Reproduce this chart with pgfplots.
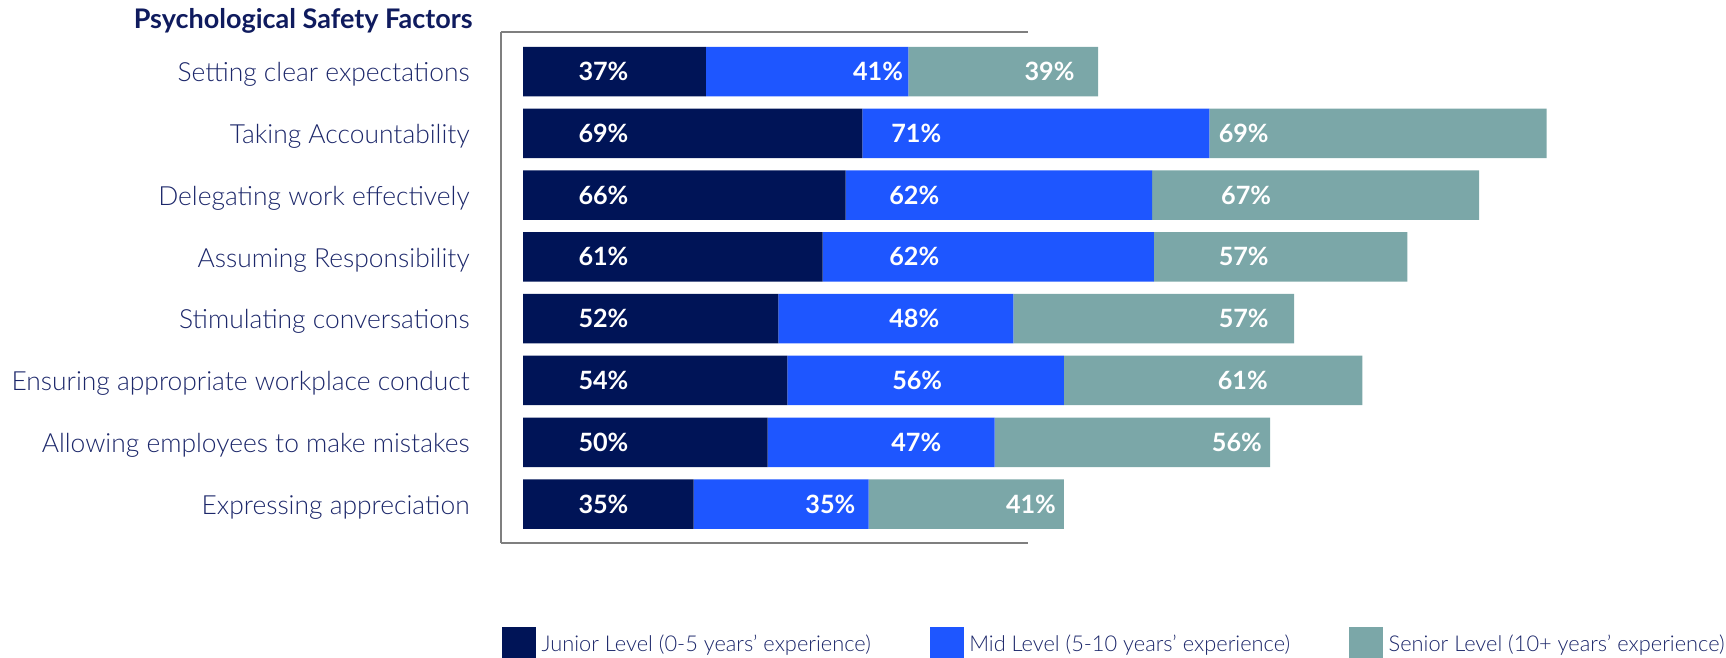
\documentclass[border=0pt]{standalone}
\usepackage{pgfplots}
\usepackage{pgfplotstable}
\pgfplotsset{compat=1.18}
\usepackage{fontspec}
\setmainfont{Lato}
\IfFontExistsTF{Lato Light}{\newfontfamily\lightfont{Lato Light}}{\newfontfamily\lightfont{Lato}}
\definecolor{junior}{HTML}{001457}
\definecolor{mid}{HTML}{1E56FF}
\definecolor{senior}{HTML}{7BA7A8}
\definecolor{labtext}{HTML}{1C276A}
\definecolor{titlec}{HTML}{0F1B5E}
\definecolor{framec}{HTML}{7F7F7F}

\pgfplotstableread{
y junior mid senior
0 37.3 41.3 38.7
1 69.2 70.8 68.8
2 65.8 62.5 66.7
3 61.1 67.6 51.7
4 52.1 47.9 57.3
5 53.9 56.4 60.9
6 49.9 46.3 56.2
7 34.8 35.7 39.8
}\bars

\pgfplotstableread{
x y lab
16.4 0 37
72.4 0 41
107.4 0 39
16.4 1 69
80.2 1 71
147 1 69
16.4 2 66
79.8 2 62
147.5 2 67
16.4 3 61
79.8 3 62
147 3 57
16.4 4 52
79.8 4 48
147 4 57
16.4 5 54
80.4 5 56
146.8 5 61
16.4 6 50
80.2 6 47
145.6 6 56
16.4 7 35
62.7 7 35
103.6 7 41
}\labels

\pgfplotsset{sq/.style={legend image code/.code={\fill[##1] (0pt,-8.5pt) rectangle (17pt,8.5pt);}}}

\begin{document}
\begin{tikzpicture}
\begin{axis}[
  name=ax,
  scale only axis,
  width=263.5pt, height=255.5pt,
  xmin=-4.5, xmax=103,
  ymin=-0.64, ymax=7.63,
  y dir=reverse,
  xbar stacked,
  bar width=24.75pt,
  clip=false,
  axis x line*=box,
  axis y line*=left,
  axis line style={draw=framec, line width=1.1pt},
  xtick=\empty,
  ytick={0,...,7},
  yticklabels={Setting clear expectations, Taking Accountability, Delegating work effectively, Assuming Responsibility, Stimulating conversations, Ensuring appropriate workplace conduct, Allowing employees to make mistakes, Expressing appreciation},
  major tick length=0pt,
  yticklabel style={anchor=east, inner sep=0pt, xshift=-15.5pt, yshift=-0.4pt, font=\lightfont\fontsize{13.2}{15}\selectfont, text=labtext, text height=9.4pt, text depth=0pt},
  legend columns=3,
  legend cell align=left,
  legend style={at={(axis description cs:0,0)}, anchor=north west, xshift=0.5pt, yshift=-42pt,
    draw=none, fill=none, inner sep=0pt, outer sep=0pt,
    font=\lightfont\fontsize{10.9}{12}\selectfont, text=labtext,
    nodes={inner sep=0pt, text height=7.8pt, text depth=0pt},
    /tikz/every odd column/.append style={column sep=2.8pt},
    /tikz/every even column/.append style={column sep=29.5pt}},
]
\addplot[fill=junior, draw=none, sq] table[x=junior, y=y] {\bars};
\addlegendentry{Junior Level (0-5 years’ experience)}
\addplot[fill=mid, draw=none, sq] table[x=mid, y=y] {\bars};
\addlegendentry{Mid Level (5-10 years’ experience)}
\addplot[fill=senior, draw=none, sq] table[x=senior, y=y] {\bars};
\addlegendentry{Senior Level (10+ years’ experience)}
\end{axis}
\begin{axis}[
  at={(ax.south west)}, anchor=south west,
  scale only axis,
  width=263.5pt, height=255.5pt,
  xmin=-4.5, xmax=103,
  ymin=-0.64, ymax=7.63,
  y dir=reverse,
  hide axis, clip=false,
]
\addplot[only marks, mark=*, mark size=0pt, mark options={draw=none, fill=none},
  point meta=explicit symbolic,
  nodes near coords={\pgfplotspointmeta\%},
  nodes near coords style={anchor=center, inner sep=0pt, font=\bfseries\fontsize{12.6}{14}\selectfont, text=white, text height=9pt, text depth=0pt}]
  table[x=x, y=y, meta=lab] {\labels};
\end{axis}
\node[anchor=base east, inner sep=0pt, font=\bfseries\fontsize{13.5}{16}\selectfont, text=titlec] at ([xshift=-14pt, yshift=1.7pt]ax.north west) {Psychological Safety Factors};
\pgfresetboundingbox
\path[use as bounding box] ([xshift=-250.5pt, yshift=-57.5pt]ax.south west) rectangle ([xshift=612.5pt, yshift=271.5pt]ax.south west);
\end{tikzpicture}
\end{document}
